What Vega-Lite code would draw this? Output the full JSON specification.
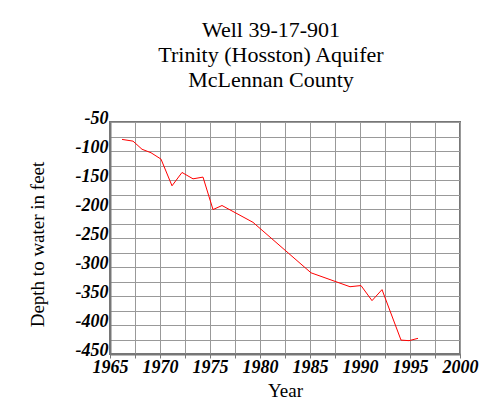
{
  "$schema": "https://vega.github.io/schema/vega-lite/v6.json",
  "autosize": "none",
  "width": 350,
  "height": 232,
  "padding": {"left": 110, "top": 122, "right": 30, "bottom": 49},
  "background": "white",
  "title": {
    "text": ["Well 39-17-901", "Trinity (Hosston) Aquifer", "McLennan County"],
    "font": "Liberation Serif",
    "fontSize": 22,
    "fontWeight": "normal",
    "color": "black",
    "lineHeight": 25,
    "offset": 17,
    "dx": -14,
    "anchor": "middle"
  },
  "data": {
    "values": [
      {"year": 1966.2, "depth": -80},
      {"year": 1967.3, "depth": -83},
      {"year": 1968.2, "depth": -97},
      {"year": 1969.1, "depth": -103},
      {"year": 1970.1, "depth": -114},
      {"year": 1971.2, "depth": -160},
      {"year": 1972.2, "depth": -137},
      {"year": 1973.3, "depth": -148},
      {"year": 1974.3, "depth": -145},
      {"year": 1975.3, "depth": -201},
      {"year": 1976.2, "depth": -194},
      {"year": 1979.3, "depth": -223},
      {"year": 1985.1, "depth": -310},
      {"year": 1989.0, "depth": -334},
      {"year": 1990.1, "depth": -332},
      {"year": 1991.2, "depth": -358},
      {"year": 1992.2, "depth": -339},
      {"year": 1994.1, "depth": -426},
      {"year": 1994.9, "depth": -427},
      {"year": 1995.8, "depth": -423}
    ]
  },
  "mark": {"type": "line", "color": "#ff0000", "strokeWidth": 1},
  "encoding": {
    "x": {
      "field": "year",
      "type": "quantitative",
      "scale": {"domain": [1965, 2000], "nice": false, "zero": false},
      "axis": {
        "title": "Year",
        "titleFont": "Liberation Serif",
        "titleFontSize": 19,
        "titleFontWeight": "normal",
        "titleColor": "black",
        "titlePadding": 5,
        "values": [1965, 1967.5, 1970, 1972.5, 1975, 1977.5, 1980, 1982.5, 1985, 1987.5, 1990, 1992.5, 1995, 1997.5, 2000],
        "format": "d",
        "labelExpr": "datum.value % 5 == 0 ? datum.label : ''",
        "labelFont": "Liberation Serif",
        "labelFontSize": 18,
        "labelFontWeight": "bold",
        "labelFontStyle": "italic",
        "labelColor": "black",
        "labelPadding": 0,
        "labelFlush": false,
        "labelOverlap": false,
        "tickSize": 4,
        "tickColor": "#777",
        "domainColor": "#777",
        "domainWidth": 2,
        "gridColor": "#999",
        "gridWidth": 1
      }
    },
    "y": {
      "field": "depth",
      "type": "quantitative",
      "scale": {"domain": [-450, -50], "nice": false, "zero": false},
      "axis": {
        "title": "Depth to water in feet",
        "titleFont": "Liberation Serif",
        "titleFontSize": 19,
        "titleFontWeight": "normal",
        "titleColor": "black",
        "titlePadding": 28,
        "titleY": 122,
        "values": [-450, -425, -400, -375, -350, -325, -300, -275, -250, -225, -200, -175, -150, -125, -100, -75, -50],
        "labelExpr": "datum.value % 50 == 0 ? '' + datum.value : ''",
        "labelFont": "Liberation Serif",
        "labelFontSize": 18,
        "labelFontWeight": "bold",
        "labelFontStyle": "italic",
        "labelColor": "black",
        "labelBaseline": "alphabetic",
        "labelOffset": 1,
        "labelPadding": 2,
        "labelFlush": false,
        "labelOverlap": false,
        "tickSize": 0,
        "domainColor": "#777",
        "domainWidth": 2,
        "gridColor": "#999",
        "gridWidth": 1
      }
    }
  },
  "config": {
    "view": {"stroke": "#777", "strokeWidth": 2}
  }
}
